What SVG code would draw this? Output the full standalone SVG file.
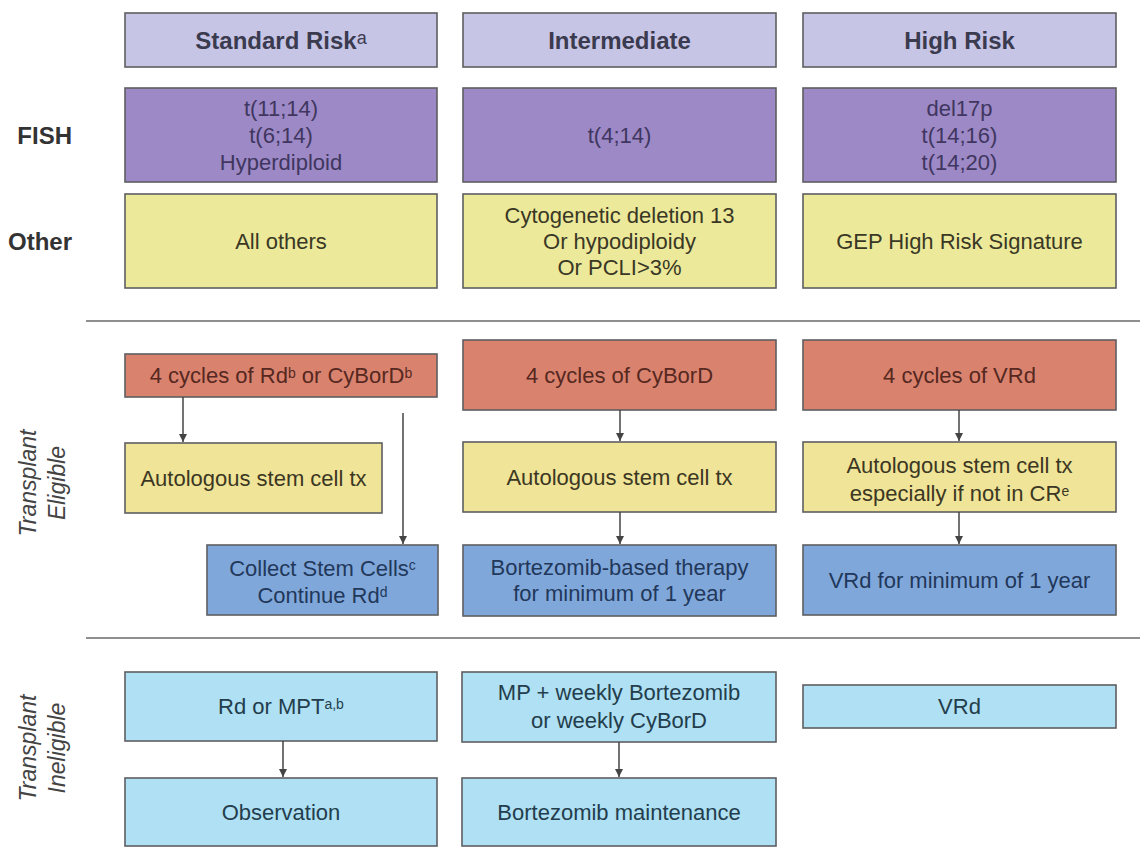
<svg xmlns="http://www.w3.org/2000/svg" width="1140" height="848" viewBox="0 0 1140 848">
<style>
  text { font-family: "Liberation Sans", Arial, sans-serif; }
  .box { stroke: #5e5e62; stroke-width: 1.6; }
  .hdr { fill: #c7c5e6; }
  .fish { fill: #9c89c6; }
  .oth { fill: #ece99b; }
  .red { fill: #d9836f; }
  .yel { fill: #efe497; }
  .blu { fill: #80a7da; }
  .lbl { fill: #afe0f3; }
  .th { font-size: 24px; font-weight: bold; fill: #3b3b4f; text-anchor: middle; }
  .side { font-size: 24px; font-weight: bold; fill: #333333; text-anchor: end; }
  .rot { font-size: 23px; font-style: italic; fill: #444444; text-anchor: middle; }
  .t { font-size: 22px; text-anchor: middle; }
  .tf { fill: #40365f; }
  .to { fill: #3a3825; }
  .tr { fill: #56281f; }
  .ty { fill: #3c3723; }
  .tb { fill: #22385a; }
  .tl { fill: #233d4c; }
  .sup { font-size: 14px; font-weight: normal; }
  .suph { font-size: 18px; font-weight: normal; }
  .div { stroke: #6a6a6a; stroke-width: 1.6; }
  .conn line { stroke: #444444; stroke-width: 1.5; marker-end: url(#ah); }
</style>
<defs>
  <marker id="ah" viewBox="0 0 10 10" refX="10" refY="5" markerWidth="9" markerHeight="8" markerUnits="userSpaceOnUse" orient="auto">
    <path d="M0,0 L10,5 L0,10 z" fill="#444444"/>
  </marker>
</defs>
<rect width="1140" height="848" fill="#ffffff"/>

<!-- side labels -->
<g id="label-fish"><text class="side" x="72" y="144">FISH</text></g>
<g id="label-other"><text class="side" x="72" y="250">Other</text></g>
<g id="label-eligible"><text class="rot" transform="translate(36,483) rotate(-90)"><tspan x="0" dy="0">Transplant</tspan><tspan x="0" dy="29">Eligible</tspan></text></g>
<g id="label-ineligible"><text class="rot" transform="translate(36,748) rotate(-90)"><tspan x="0" dy="0">Transplant</tspan><tspan x="0" dy="29">Ineligible</tspan></text></g>

<!-- dividers -->
<g id="dividers">
  <line class="div" x1="86" y1="321" x2="1140" y2="321"/>
  <line class="div" x1="86" y1="638" x2="1140" y2="638"/>
</g>

<!-- headers -->
<g id="hdr-standard"><rect class="box hdr" x="125" y="13" width="312" height="54"/><text class="th" x="281" y="49">Standard Risk<tspan class="suph" baseline-shift="28%">a</tspan></text></g>
<g id="hdr-intermediate"><rect class="box hdr" x="463" y="13" width="313" height="54"/><text class="th" x="619.5" y="49">Intermediate</text></g>
<g id="hdr-high"><rect class="box hdr" x="803" y="13" width="313" height="54"/><text class="th" x="959.5" y="49">High Risk</text></g>

<!-- FISH row -->
<g id="fish-standard"><rect class="box fish" x="125" y="88" width="312" height="94"/><text class="t tf" x="281" y="116">t(11;14)</text><text class="t tf" x="281" y="143">t(6;14)</text><text class="t tf" x="281" y="170">Hyperdiploid</text></g>
<g id="fish-intermediate"><rect class="box fish" x="463" y="88" width="313" height="94"/><text class="t tf" x="619.5" y="143">t(4;14)</text></g>
<g id="fish-high"><rect class="box fish" x="803" y="88" width="313" height="94"/><text class="t tf" x="959.5" y="116">del17p</text><text class="t tf" x="959.5" y="143">t(14;16)</text><text class="t tf" x="959.5" y="170">t(14;20)</text></g>

<!-- Other row -->
<g id="other-standard"><rect class="box oth" x="125" y="194" width="312" height="94"/><text class="t to" x="281" y="249">All others</text></g>
<g id="other-intermediate"><rect class="box oth" x="463" y="194" width="313" height="94"/><text class="t to" x="619.5" y="223">Cytogenetic deletion 13</text><text class="t to" x="619.5" y="249">Or hypodiploidy</text><text class="t to" x="619.5" y="275">Or PCLI&gt;3%</text></g>
<g id="other-high"><rect class="box oth" x="803" y="194" width="313" height="94"/><text class="t to" x="959.5" y="249">GEP High Risk Signature</text></g>

<!-- Transplant eligible -->
<g id="te-induction-standard"><rect class="box red" x="125" y="354" width="312" height="43"/><text class="t tr" x="281" y="383">4 cycles of Rd<tspan class="sup" baseline-shift="35%">b</tspan> or CyBorD<tspan class="sup" baseline-shift="35%">b</tspan></text></g>
<g id="te-induction-intermediate"><rect class="box red" x="463" y="340" width="313" height="70"/><text class="t tr" x="619.5" y="383">4 cycles of CyBorD</text></g>
<g id="te-induction-high"><rect class="box red" x="803" y="340" width="313" height="70"/><text class="t tr" x="959.5" y="383">4 cycles of VRd</text></g>

<g id="te-asct-standard"><rect class="box yel" x="125" y="443" width="257" height="70"/><text class="t ty" x="253.5" y="486">Autologous stem cell tx</text></g>
<g id="te-asct-intermediate"><rect class="box yel" x="463" y="442" width="313" height="70"/><text class="t ty" x="619.5" y="485">Autologous stem cell tx</text></g>
<g id="te-asct-high"><rect class="box yel" x="803" y="442" width="313" height="70"/><text class="t ty" x="959.5" y="473">Autologous stem cell tx</text><text class="t ty" x="959.5" y="501">especially if not in CR<tspan class="sup" baseline-shift="35%">e</tspan></text></g>

<g id="te-maint-standard"><rect class="box blu" x="207" y="545" width="231" height="70"/><text class="t tb" x="322.5" y="576">Collect Stem Cells<tspan class="sup" baseline-shift="45%">c</tspan></text><text class="t tb" x="322.5" y="603">Continue Rd<tspan class="sup" baseline-shift="45%">d</tspan></text></g>
<g id="te-maint-intermediate"><rect class="box blu" x="463" y="545" width="313" height="71"/><text class="t tb" x="619.5" y="575">Bortezomib-based therapy</text><text class="t tb" x="619.5" y="601">for minimum of 1 year</text></g>
<g id="te-maint-high"><rect class="box blu" x="803" y="545" width="313" height="70"/><text class="t tb" x="959.5" y="588">VRd for minimum of 1 year</text></g>

<!-- Transplant ineligible -->
<g id="ti-standard"><rect class="box lbl" x="125" y="672" width="312" height="69"/><text class="t tl" x="281" y="714">Rd or MPT<tspan class="sup" baseline-shift="35%">a,b</tspan></text></g>
<g id="ti-intermediate"><rect class="box lbl" x="462" y="672" width="314" height="70"/><text class="t tl" x="619" y="700">MP + weekly Bortezomib</text><text class="t tl" x="619" y="728">or weekly CyBorD</text></g>
<g id="ti-high"><rect class="box lbl" x="803" y="685" width="313" height="43"/><text class="t tl" x="959.5" y="714">VRd</text></g>
<g id="ti-obs-standard"><rect class="box lbl" x="125" y="778" width="312" height="68"/><text class="t tl" x="281" y="820">Observation</text></g>
<g id="ti-maint-intermediate"><rect class="box lbl" x="462" y="778" width="314" height="68"/><text class="t tl" x="619" y="820">Bortezomib maintenance</text></g>

<!-- connectors -->
<g id="connectors" class="conn">
  <line x1="183" y1="397" x2="183" y2="442"/>
  <line x1="403" y1="413" x2="403" y2="544"/>
  <line x1="620" y1="410" x2="620" y2="441"/>
  <line x1="620" y1="512" x2="620" y2="544"/>
  <line x1="959" y1="410" x2="959" y2="441"/>
  <line x1="959" y1="512" x2="959" y2="544"/>
  <line x1="283" y1="741" x2="283" y2="777"/>
  <line x1="619" y1="742" x2="619" y2="777"/>
</g>
</svg>
